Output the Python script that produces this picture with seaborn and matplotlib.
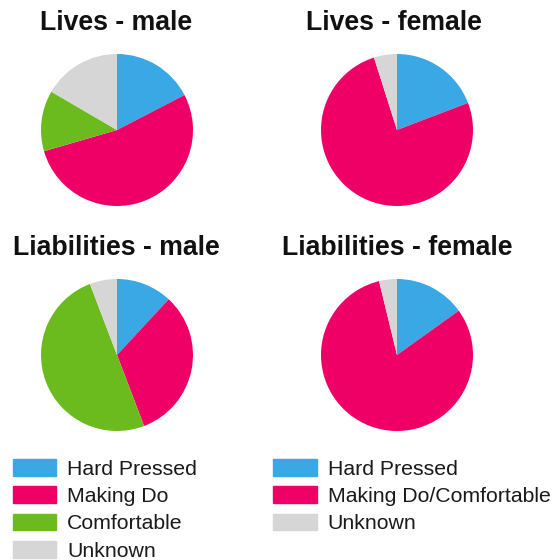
import matplotlib
matplotlib.use("Agg")
import matplotlib.pyplot as plt
import seaborn as sns
from matplotlib.patches import Patch

sns.set_theme(style="white")
plt.rcParams["font.family"] = ["Liberation Sans", "DejaVu Sans"]

# shares in percent, clockwise from 12 o'clock
male_labels = ["Hard Pressed", "Making Do", "Comfortable", "Unknown"]
female_labels = ["Hard Pressed", "Making Do/Comfortable", "Unknown"]
lives_male = [17.4, 53.1, 12.9, 16.6]
lives_female = [19.2, 75.9, 4.9]
liabilities_male = [11.9, 32.3, 50.0, 5.8]
liabilities_female = [15.1, 81.1, 3.8]

blue, pink, green, grey = "#3aa8e4", "#ee0066", "#6bbb1e", "#d6d6d6"
male_colors = [blue, pink, green, grey]
female_colors = [blue, pink, grey]

W, H = 558, 560
fig = plt.figure(figsize=(W / 100, H / 100), dpi=100)

# title, values, colours, pie centre (px), title centre x, title baseline y
panels = [
    ("Lives - male", lives_male, male_colors, (117, 130), 116, 30),
    ("Lives - female", lives_female, female_colors, (397, 130), 394, 30),
    ("Liabilities - male", liabilities_male, male_colors, (117, 355), 116, 255),
    ("Liabilities - female", liabilities_female, female_colors, (397, 355), 397, 255),
]
r = 76
for title, values, colors, (cx, cy), tx, ty in panels:
    ax = fig.add_axes([(cx - r) / W, 1 - (cy + r) / H, 2 * r / W, 2 * r / H])
    ax.pie(values, colors=colors, startangle=90, counterclock=False,
           wedgeprops=dict(linewidth=0))
    ax.set_xlim(-1, 1)
    ax.set_ylim(-1, 1)
    ax.set_aspect("equal")
    ax.axis("off")
    fig.text(tx / W, 1 - ty / H, title, ha="center", va="baseline",
             fontsize=19.2, fontweight="bold", color="#111111")

leg_kw = dict(frameon=False, fontsize=15.3, handlelength=2.07, handleheight=0.83,
              labelspacing=0.36, handletextpad=0.5, borderpad=0, borderaxespad=0,
              labelcolor="#1a1a1a")
fig.legend(handles=[Patch(color=c, label=l) for c, l in zip(male_colors, male_labels)],
           loc="upper left", bbox_to_anchor=(12.5 / W, 1 - 459 / H), **leg_kw)
fig.legend(handles=[Patch(color=c, label=l) for c, l in zip(female_colors, female_labels)],
           loc="upper left", bbox_to_anchor=(273 / W, 1 - 459 / H), **leg_kw)

fig.savefig("out.png", dpi=100, facecolor="white")
